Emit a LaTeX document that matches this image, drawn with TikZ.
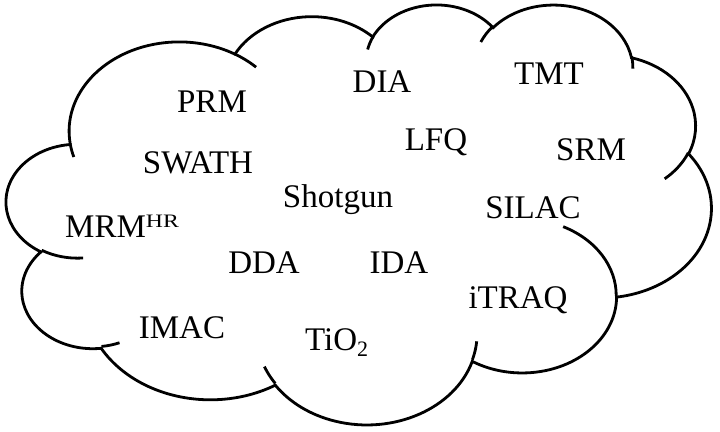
\documentclass[tikz,border=0pt]{standalone}
\usepackage{fontspec}
\setmainfont{Liberation Serif}
\usepackage{graphicx}
\tikzset{
  oo/.code args={#1/#2/#3/#4}{%
    \pgfmathsetmacro\ooA{atan2((#1)*sin(#3),(#2)*cos(#3))}%
    \pgfmathsetmacro\ooB{atan2((#1)*sin((#3)+(#4)),(#2)*cos((#3)+(#4)))}%
    \pgfmathsetmacro\ooD{mod(\ooB-\ooA+720,360)}%
    \edef\oonext{\noexpand\pgfkeysalso{x radius=#1,y radius=#2,start angle=\ooA,delta angle=\ooD}}%
    \oonext},
  cloudline/.style={line width=2.8pt, draw=black, line cap=butt},
  lbl/.style={inner sep=0pt, font=\fontsize{33}{33}\selectfont}
}
\begin{document}
\begin{tikzpicture}[x=1pt,y=-1pt]
\path[use as bounding box, fill=white] (0,0) rectangle (720,431);
\begin{scope}[shift={(6.5,3.6)}, x=1cm, y=1cm, xscale=0.57327, yscale=-0.34155]
\draw[cloudline] (3.900,14.370)
  arc[oo=6.753/9.190/-190.48748/123.78053]
  arc[oo=5.333/7.267/-144.10238/89.94523]
  arc[oo=4.365/5.945/-145.80792/99.72302]
  arc[oo=4.857/6.595/-130.98607/117.24173]
  arc[oo=5.333/7.273/-78.70888/109.02692]
  arc[oo=6.775/9.220/-46.26725/130.269]
  arc[oo=5.785/7.867/0.62502/114.03333]
  arc[oo=6.752/9.215/22.4516/115.17255]
  arc[oo=7.720/10.543/66.24263/75.71102]
  arc[oo=4.360/5.918/-274.94208/146.73557]
  arc[oo=4.345/5.945/-246.82850/152.51885]
  -- cycle;
\draw[cloudline]
  (4.693,26.177) arc[oo=4.345/5.945/86.742/26.4295]
  (6.928,34.899) arc[oo=4.360/5.918/73.61047/11.44747]
  (16.478,39.090) arc[oo=6.752/9.215/137.62415/14.0811]
  (28.827,34.751) arc[oo=6.752/9.215/6.45327/15.99835]
  (34.129,22.954) arc[oo=5.785/7.867/-70.29235/70.91737]
  (41.798,15.354) arc[oo=5.333/7.273/30.31803/27.7515]
  (38.324,5.426) arc[oo=4.857/6.595/-13.74433/14.8589]
  (29.078,3.952) arc[oo=4.857/6.595/-149.18145/18.19537]
  (22.141,4.720) arc[oo=4.365/5.945/-163.49427/17.68635]
  (14.000,5.192) arc[oo=6.753/9.190/-66.70695/12.31935]
  (4.127,15.789) arc[oo=6.753/9.190/157.65435/11.85817];
\end{scope}
\node[lbl, anchor=base] (prm) at (212,112) {PRM};
\node[lbl, anchor=base] (dia) at (382,92) {DIA};
\node[lbl, anchor=base] (tmt) at (549,84) {TMT};
\node[lbl, anchor=base] (swath) at (198,173) {SWATH};
\node[lbl, anchor=base] (lfq) at (436,150) {LFQ};
\node[lbl, anchor=base] (srm) at (591,160) {SRM};
\node[lbl, anchor=base] (shotgun) at (338,207) {Shotgun};
\node[lbl, anchor=base] (silac) at (533,218) {SILAC};
\node[lbl, anchor=base west] (mrm) at (65,237) {MRM\raisebox{10pt}{\fontsize{19}{19}\selectfont\scalebox{1.25}[1]{HR}}};
\node[lbl, anchor=base] (dda) at (264,273) {DDA};
\node[lbl, anchor=base] (ida) at (399,273) {IDA};
\node[lbl, anchor=base] (itraq) at (518,308) {iTRAQ};
\node[lbl, anchor=base] (imac) at (182,338) {IMAC};
\node[lbl, anchor=base west] (tio) at (305,350) {TiO\raisebox{-6pt}{\fontsize{22}{22}\selectfont 2}};
\end{tikzpicture}
\end{document}
